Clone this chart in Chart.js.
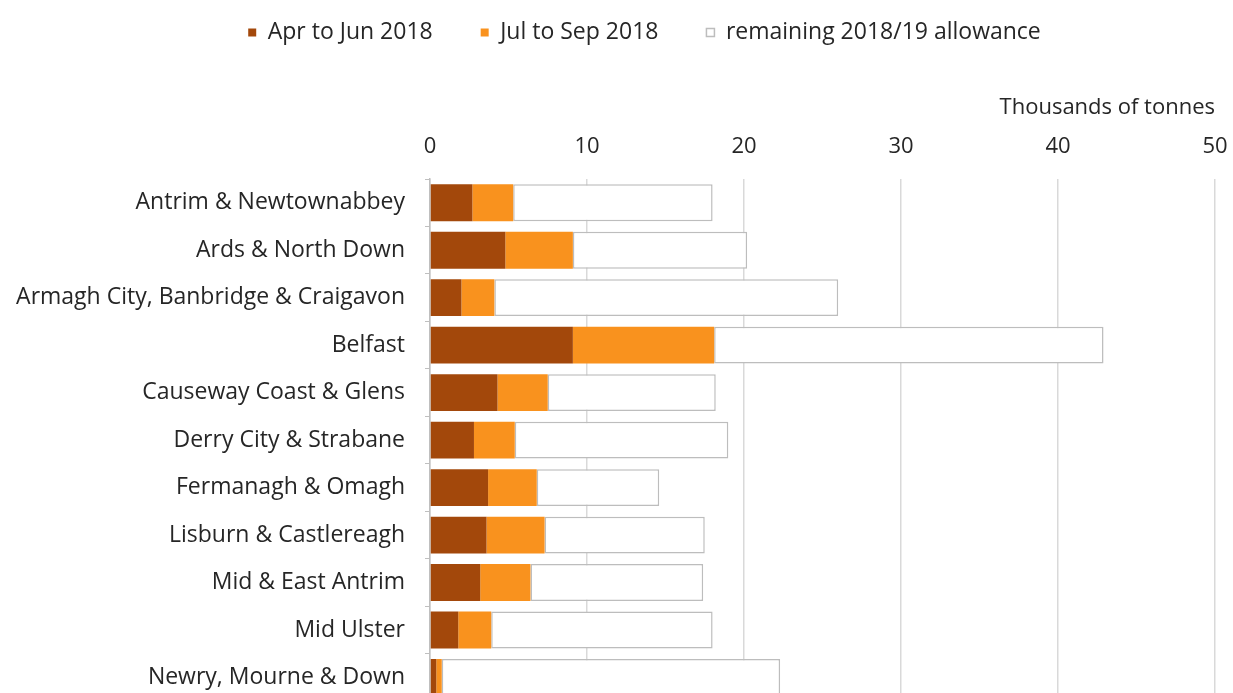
<!DOCTYPE html>
<html>
<head>
<meta charset="utf-8">
<script src="https://cdn.jsdelivr.net/npm/chart.js@4"></script>
<style>
  html, body { margin: 0; padding: 0; background: #fff; overflow: hidden; }
  canvas { display: block; }
</style>
</head>
<body>
<canvas id="waste" width="1233" height="735"></canvas>
<script>
const councils = [
  'Antrim & Newtownabbey', 'Ards & North Down', 'Armagh City, Banbridge & Craigavon',
  'Belfast', 'Causeway Coast & Glens', 'Derry City & Strabane', 'Fermanagh & Omagh',
  'Lisburn & Castlereagh', 'Mid & East Antrim', 'Mid Ulster', 'Newry, Mourne & Down'
];
const aprJun = [2.7, 4.8, 2.0, 9.1, 4.3, 2.8, 3.7, 3.6, 3.2, 1.8, 0.4];
const julSep = [2.6, 4.3, 2.1, 9.0, 3.2, 2.6, 3.1, 3.7, 3.2, 2.1, 0.35];
const remaining = [12.7, 11.1, 21.9, 24.8, 10.7, 13.6, 7.8, 10.2, 11.0, 14.1, 21.55];
const xTicks = [0, 10, 20, 30, 40, 50];

const font = '"Open Sans", Lato, sans-serif';
const textCol = '#262626';

// legend sits a little right of the canvas centre, over the plot
const shiftLegend = {
  id: 'shiftLegend',
  afterLayout(chart) {
    chart.legend.left += 37;
    chart.legend.right += 37;
  }
};

new Chart(document.getElementById('waste'), {
  type: 'bar',
  data: {
    labels: councils,
    datasets: [
      { label: 'Apr to Jun 2018', data: aprJun, backgroundColor: '#a3480b', borderWidth: 0 },
      { label: 'Jul to Sep 2018', data: julSep, backgroundColor: '#f9921e', borderWidth: 0 },
      { label: 'remaining 2018/19 allowance', data: remaining, backgroundColor: '#ffffff',
        borderColor: '#bdbdbd', borderWidth: 1.5, borderSkipped: false }
    ]
  },
  plugins: [shiftLegend],
  options: {
    responsive: false,
    indexAxis: 'y',
    animation: false,
    categoryPercentage: 0.8,
    barPercentage: 0.97,
    layout: { padding: { top: -27, right: 18, left: 0, bottom: 0 } },
    plugins: {
      tooltip: { enabled: false },
      legend: {
        position: 'top',
        labels: {
          font: { family: font, size: 23 },
          color: textCol,
          boxWidth: 8,
          boxHeight: 8,
          padding: 48
        }
      }
    },
    scales: {
      x: {
        position: 'top',
        stacked: true,
        min: 0,
        max: 50,
        afterBuildTicks: s => { s.ticks = xTicks.map(v => ({ value: v })); },
        afterFit: s => { s.height = 125; s.paddingLeft = 0; s.paddingRight = 0; },
        ticks: { font: { family: font, size: 22 }, color: textCol, padding: 19 },
        grid: { color: '#d9d9d9', lineWidth: 1.5, drawTicks: false },
        border: { display: false },
        title: {
          display: true,
          text: 'Thousands of tonnes',
          align: 'end',
          font: { family: font, size: 22 },
          color: textCol,
          padding: { top: 41, bottom: 0 }
        }
      },
      y: {
        stacked: true,
        afterFit: s => { s.width = 430; },
        ticks: { font: { family: font, size: 23 }, color: textCol, padding: 20 },
        grid: { drawOnChartArea: false, tickLength: 5, color: '#bfbfbf' },
        border: { display: true, color: '#bfbfbf', width: 1.5 }
      }
    }
  }
});
</script>
</body>
</html>
